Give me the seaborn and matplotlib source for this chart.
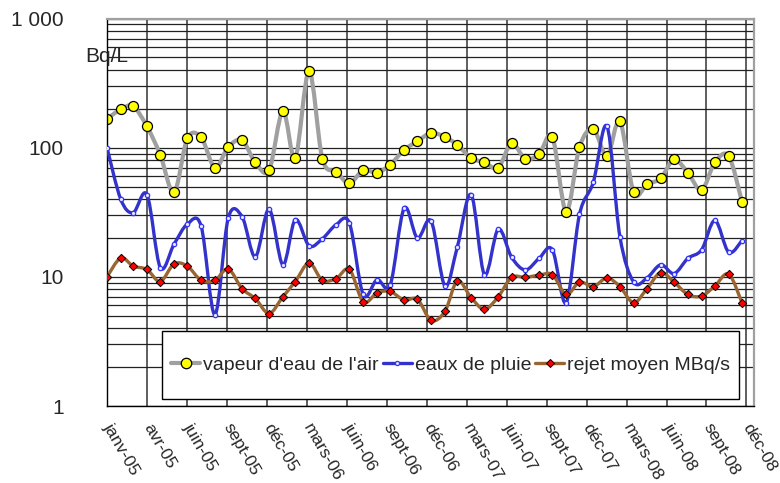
import numpy as np
import pandas as pd
import matplotlib
matplotlib.use('Agg')
import matplotlib.pyplot as plt
import seaborn as sns
from matplotlib.path import Path
from matplotlib.patches import PathPatch, Rectangle
from matplotlib.lines import Line2D
from matplotlib.ticker import FixedLocator, LogLocator, NullFormatter

# monthly values, janv-05 .. déc-08
months = pd.date_range('2005-01-01', periods=48, freq='MS')

vapeur = [167, 198, 209, 146, 88, 45, 118, 120, 70, 101,
          114, 77, 67, 192, 83, 391, 82, 65, 53, 67,
          64, 74, 96, 112, 130, 121, 105, 83, 77, 70,
          108, 82, 89, 121, 32, 101, 139, 86, 160, 45,
          52, 58, 81, 64, 47, 77, 86, 38]
pluie = [100, 39.8, 31.4, 43.3, 11.8, 17.9, 25.6, 24.7, 5.1, 28.5,
         29.3, 14.3, 33.4, 12.4, 27.7, 17.4, 19.7, 25.3, 26.0, 7.3,
         9.5, 8.7, 33.9, 20.0, 27.0, 8.5, 17.1, 43.3, 10.4, 23.4,
         14.2, 11.3, 13.9, 16.2, 6.3, 30.4, 53.9, 146, 20.5, 9.1,
         9.8, 12.4, 10.6, 13.9, 16.2, 27.3, 15.5, 19.1]
rejet = [10.0, 14.0, 12.1, 11.4, 9.2, 12.6, 12.1, 9.4, 9.4, 11.5,
         8.1, 6.8, 5.2, 7.0, 9.2, 12.8, 9.4, 9.7, 11.4, 6.4,
         7.5, 7.7, 6.6, 6.7, 4.6, 5.4, 9.3, 6.9, 5.6, 7.0,
         9.9, 9.9, 10.3, 10.4, 7.3, 9.1, 8.4, 9.8, 8.4, 6.3,
         8.1, 10.8, 9.1, 7.3, 7.1, 8.5, 10.5, 6.3]

tick_labels = ['janv-05', 'avr-05', 'juin-05', 'sept-05', 'déc-05', 'mars-06',
               'juin-06', 'sept-06', 'déc-06', 'mars-07', 'juin-07', 'sept-07',
               'déc-07', 'mars-08', 'juin-08', 'sept-08', 'déc-08']

series_names = ["vapeur d'eau de l'air", 'eaux de pluie', 'rejet moyen MBq/s']

sns.set_style('white')
plt.rcParams['font.family'] = ['Liberation Sans', 'DejaVu Sans']

days = np.asarray((months - months[0]).days, dtype=float)
df = pd.DataFrame({'jour': days, 'vapeur': vapeur, 'pluie': pluie, 'rejet': rejet})


def smooth_path(x, y):
    # Excel-like smoothed line: Catmull-Rom segments as cubic Bezier (in log space)
    ly = np.log10(y)
    pts = np.column_stack([x, ly])
    verts = [pts[0]]
    codes = [Path.MOVETO]
    n = len(pts)
    for i in range(n - 1):
        p0 = pts[max(i - 1, 0)]
        p1 = pts[i]
        p2 = pts[i + 1]
        p3 = pts[min(i + 2, n - 1)]
        c1 = p1 + (p2 - p0) / 6.0
        c2 = p2 - (p3 - p1) / 6.0
        verts += [c1, c2, p2]
        codes += [Path.CURVE4] * 3
    verts = np.array(verts)
    verts[:, 1] = 10 ** verts[:, 1]
    return Path(verts, codes)


fig = plt.figure(figsize=(7.8, 4.83), dpi=100)
ax = fig.add_axes([107 / 780, 1 - 406 / 483, 647 / 780, 387.5 / 483])
ax.set_yscale('log')
ax.set_ylim(1, 1000)
ax.set_xlim(0, 1457)

styles = [
    ('vapeur', '#a0a0a0', 3.0, 'o', 52, '#ffff00', 'black', 0.9),
    ('pluie', '#3333cc', 2.4, 'o', 10, '#e8e8ff', '#3333ff', 0.9),
    ('rejet', '#996633', 2.4, 'D', 18, '#ff0000', 'black', 0.7),
]
for k, (col, color, lw, mk, size, fc, ec, mew) in enumerate(styles):
    patch = PathPatch(smooth_path(df['jour'].values, df[col].values),
                      facecolor='none', edgecolor=color, lw=lw,
                      capstyle='round', joinstyle='round', zorder=2 + k)
    ax.add_patch(patch)
    sns.scatterplot(data=df, x='jour', y=col, ax=ax, marker=mk, s=size,
                    color=fc, edgecolor=ec, linewidth=mew, zorder=2.5 + k,
                    legend=False)

# grid
ax.yaxis.set_major_locator(FixedLocator([1, 10, 100, 1000]))
ax.yaxis.set_minor_locator(LogLocator(base=10, subs=np.arange(2, 10)))
ax.yaxis.set_minor_formatter(NullFormatter())
ax.set_yticklabels(['1', '10', '100', '1 000'], fontsize=15)
ax.set_xticks(np.arange(0, 1441, 90))
ax.set_xticklabels(tick_labels, rotation=-60, ha='left', va='center',
                   rotation_mode='anchor', fontsize=12.5)
ax.grid(True, which='both', axis='y', color='#222222', lw=0.9)
ax.grid(True, which='major', axis='x', color='#333333', lw=1.1)
ax.set_axisbelow(True)
ax.tick_params(axis='y', which='major', direction='out', length=5, width=1,
               pad=26, color='black')
ax.tick_params(axis='y', which='minor', length=0)
ax.tick_params(axis='x', which='major', direction='inout', length=5, width=1,
               pad=11, color='black')
ax.set_xlabel('')
ax.set_ylabel('')

for side in ['left', 'bottom']:
    ax.spines[side].set_color('black')
    ax.spines[side].set_linewidth(1.0)
for side in ['top', 'right']:
    ax.spines[side].set_color('#a0a0a0')
    ax.spines[side].set_linewidth(1.6)

fig.text(85 / 780, 1 - 57 / 483, 'Bq/L', fontsize=15, ha='left', va='center')

# legend box
box = Rectangle((55 / 647, 7 / 387.5), 577 / 647, 68 / 387.5, transform=ax.transAxes,
                facecolor='white', edgecolor='black', lw=1.0, zorder=5)
ax.add_patch(box)
handles = [
    Line2D([], [], color='#a0a0a0', lw=3.0, marker='o', markersize=7.5,
           markerfacecolor='#ffff00', markeredgecolor='black', markeredgewidth=0.9),
    Line2D([], [], color='#3333cc', lw=2.4, marker='o', markersize=3,
           markerfacecolor='#e8e8ff', markeredgecolor='#3333ff', markeredgewidth=0.9),
    Line2D([], [], color='#996633', lw=2.4, marker='D', markersize=4,
           markerfacecolor='#ff0000', markeredgecolor='black', markeredgewidth=0.7),
]
leg = ax.legend(handles, series_names, loc='center', ncol=3, frameon=False,
                bbox_to_anchor=(343.5 / 647, 41 / 387.5), fontsize=14,
                handlelength=1.5, handletextpad=0.15, columnspacing=0.2,
                borderpad=0, borderaxespad=0)
leg.set_zorder(6)

fig.savefig('out.png', dpi=100)
